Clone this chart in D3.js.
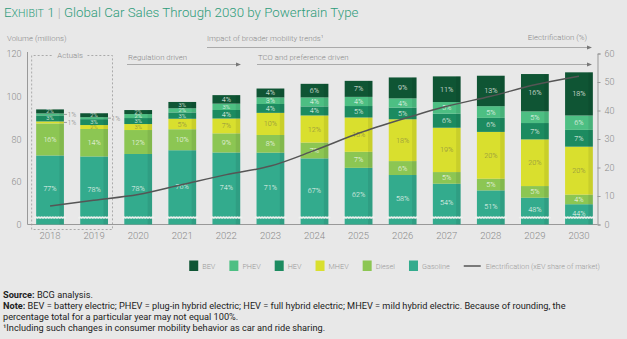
<!DOCTYPE html>
<html>
<head>
<meta charset="utf-8">
<script src="https://cdn.jsdelivr.net/npm/d3@7"></script>
<style>
  body { margin: 0; background: #e8e8e8; }
  svg { display: block; font-family: Roboto, sans-serif; }
</style>
</head>
<body>
<svg id="chart" width="627" height="339"></svg>
<script>
const years = ["2018", "2019", "2020", "2021", "2022", "2023", "2024", "2025", "2026", "2027", "2028", "2029", "2030"];
const totals = [94, 92.2, 93.7, 97.5, 100.7, 103.8, 106, 107.4, 109, 109.5, 109.8, 110.6, 111.4]; // millions
const bev = [2, 2, 2, 3, 4, 4, 6, 7, 9, 11, 13, 16, 18];
const phev = [1, 1, 2, 2, 3, 3, 4, 4, 4, 5, 5, 5, 6];
const hev = [3, 3, 3, 3, 4, 4, 4, 5, 5, 6, 6, 7, 7];
const mhev = [1, 2, 3, 5, 7, 10, 12, 15, 18, 19, 20, 20, 20];
const diesel = [16, 14, 12, 10, 9, 8, 7, 7, 6, 5, 5, 5, 4];
const gasoline = [77, 78, 78, 76, 74, 71, 67, 62, 58, 54, 51, 48, 44];
const electrification = [6.5, 8.5, 10.5, 14, 17.5, 20.5, 26, 32, 37, 41.5, 45, 49, 52];

const leftTicks = [40, 60, 80, 100, 120];   // 40 sits where the broken axis reads "0"
const rightTicks = [0, 10, 20, 30, 40, 50, 60];

const seriesNames = ["BEV", "PHEV", "HEV", "MHEV", "Diesel", "Gasoline"];
const seriesValues = [bev, phev, hev, mhev, diesel, gasoline];
const seriesColors = ["#0f5534", "#4dbf83", "#1c8b60", "#d9df2e", "#8cc653", "#33ab8d"];

const svg = d3.select("#chart");
const gray = "#8a8a8a";

// title
const title = svg.append("text").attr("x", 4).attr("y", 17)
  .attr("fill", "#2e9c7a").attr("font-weight", 300).attr("font-size", 13.3);
title.append("tspan").text("E");
title.append("tspan").attr("font-size", 10.6).text("XHIBIT");
title.append("tspan").text(" 1 ");
title.append("tspan").attr("fill", "#aaa").text("|");
title.append("tspan").text(" Global Car Sales Through 2030 by Powertrain Type");

// scales
const x = d3.scaleBand().domain(years).range([28, 601]).paddingInner(0.37).paddingOuter(0.185);
const yL = d3.scaleLinear().domain([40, 120]).range([224.5, 54]);
const yR = d3.scaleLinear().domain([0, 60]).range([224.5, 53.5]);
const bw = x.bandwidth();

// stacked data, bottom-up
const rows = years.map((year, i) => {
  const row = { year: year, i: i };
  const sum = d3.sum(seriesValues, s => s[i]);
  seriesNames.forEach((n, k) => { row[n] = totals[i] * seriesValues[k][i] / sum; });
  return row;
});
const stackKeys = seriesNames.slice().reverse();
const stacked = d3.stack().keys(stackKeys)(rows);
const color = d3.scaleOrdinal().domain(seriesNames).range(seriesColors);

// dashed "Actuals" box
const ax0 = x("2018") - 4.5, ax1 = x("2019") + bw + 4.5;
const dash = svg.append("g").attr("stroke", "#aaa").attr("stroke-dasharray", "2,2").attr("fill", "none");
dash.append("path").attr("d", `M${ax0 + 20},55.5H${ax0}V229.5H${ax1}V55.5H${ax1 - 25}`);
svg.append("text").attr("x", (ax0 + ax1) / 2 - 2).attr("y", 55.5).attr("dy", "0.35em")
  .attr("text-anchor", "middle").attr("font-size", 7.8).attr("font-weight", 300).attr("fill", gray).text("Actuals");

// axis lines
svg.append("line").attr("x1", 27.5).attr("x2", 27.5).attr("y1", 52).attr("y2", 224.5).attr("stroke", "#999");
svg.append("line").attr("x1", 27.5).attr("x2", 597.5).attr("y1", 224.5).attr("y2", 224.5).attr("stroke", "#999");

const gLeft = svg.append("g").attr("transform", "translate(27.5,0)")
  .call(d3.axisLeft(yL).tickValues(leftTicks).tickSize(0).tickPadding(6).tickFormat(d => d === 40 ? "0" : d));
const gRight = svg.append("g").attr("transform", "translate(597.5,0)")
  .call(d3.axisRight(yR).tickValues(rightTicks).tickSize(3).tickPadding(4));
const gBottom = svg.append("g").attr("transform", "translate(0,224.5)")
  .call(d3.axisBottom(x).tickSize(0).tickPadding(8));
[gLeft, gRight, gBottom].forEach(g => {
  g.selectAll("text").attr("fill", gray).attr("font-family", "Roboto, sans-serif").attr("font-weight", 300);
  g.selectAll(".tick line").attr("stroke", "#999");
});
gLeft.attr("font-size", 9);
gRight.attr("font-size", 9);
gBottom.attr("font-size", 9.5);
gLeft.select(".domain").remove();
gBottom.select(".domain").remove();
gRight.select(".domain").attr("stroke", "#999");

// bars
const layers = svg.append("g").selectAll("g").data(stacked).join("g")
  .attr("fill", d => color(d.key));
layers.selectAll("rect").data(d => d).join("rect")
  .attr("x", d => x(d.data.year))
  .attr("width", bw)
  .attr("y", d => yL(d[1]))
  .attr("height", d => yL(Math.max(d[0], 40)) - yL(d[1]));

// darker right edge of each bar
svg.append("g").selectAll("rect").data(rows).join("rect")
  .attr("x", d => x(d.year) + bw - 4.5).attr("width", 4.5)
  .attr("y", d => yL(totals[d.i])).attr("height", d => yL(40) - yL(totals[d.i]))
  .attr("fill", "#000").attr("opacity", 0.07);

// axis-break waves
const wave = d3.line().curve(d3.curveBasis);
svg.append("g").selectAll("path").data(years).join("path")
  .attr("d", yr => {
    const x0 = x(yr) - 1.5, x1 = x(yr) + bw + 1.5;
    const pts = d3.range(x0, x1 + 0.1, 1.4).map((px, j) => [px, 217.5 + (j % 2 ? -1 : 1)]);
    return wave(pts);
  })
  .attr("fill", "none").attr("stroke", "#eef0ee").attr("stroke-width", 2);

// segment labels
const labels = svg.append("g").attr("font-weight", 300);
stacked.forEach(layer => {
  const key = layer.key;
  const k = seriesNames.indexOf(key);
  layer.forEach(d => {
    const share = seriesValues[k][d.data.i];
    const top = yL(d[1]);
    const bottom = key === "Gasoline" ? 222 : yL(d[0]);
    const cy = (top + bottom) / 2;
    const bx = x(d.data.year);
    if (share <= 1) {
      labels.append("line").attr("x1", bx + bw).attr("x2", bx + bw + 3)
        .attr("y1", cy).attr("y2", cy).attr("stroke", "#999");
      labels.append("text").attr("x", bx + bw + 3.5).attr("y", cy).attr("dy", "0.35em")
        .attr("font-size", 6.8).attr("fill", gray).text(share + "%");
    } else {
      labels.append("text").attr("x", bx + bw / 2).attr("y", cy).attr("dy", "0.35em")
        .attr("text-anchor", "middle")
        .attr("font-size", bottom - top < 6.5 ? 5.8 : 7.2)
        .attr("fill", key === "MHEV" ? "#8c8c42" : "#f4f8f2")
        .text(share + "%");
    }
  });
});

// electrification line
svg.append("path")
  .attr("d", d3.line().curve(d3.curveMonotoneX)
    .x((d, i) => x(years[i]) + bw / 2).y(d => yR(d))(electrification))
  .attr("fill", "none").attr("stroke", "#555").attr("stroke-width", 1.5);

// phase annotations
function arrowLine(x1, x2, y) {
  svg.append("line").attr("x1", x1).attr("x2", x2 - 4).attr("y1", y).attr("y2", y)
    .attr("stroke", "#aaa").attr("stroke-width", 1);
  svg.append("path").attr("d", `M${x2},${y}L${x2 - 5},${y - 2}L${x2 - 5},${y + 2}Z`).attr("fill", "#777");
}
const ann = svg.append("g").attr("font-size", 7.8).attr("font-weight", 300).attr("fill", gray);
ann.append("text").attr("x", 7).attr("y", 38).attr("dy", "0.35em").text("Volume (millions)");
ann.append("text").attr("x", 207).attr("y", 38).attr("dy", "0.35em").text("Impact of broader mobility trends¹");
ann.append("text").attr("x", 587).attr("y", 37).attr("dy", "0.35em").attr("text-anchor", "end").text("Electrification (%)");
ann.append("text").attr("x", 128).attr("y", 57.5).attr("dy", "0.35em").text("Regulation driven");
ann.append("text").attr("x", 258).attr("y", 57.5).attr("dy", "0.35em").text("TCO and preference driven");
arrowLine(207, 592, 47.5);
arrowLine(127, 241, 64.5);
arrowLine(257, 592, 64.5);

// legend
const legendNames = seriesNames.concat(["Electrification (xEV share of market)"]);
const legend = svg.append("g").attr("font-size", 7.3).attr("font-weight", 300).attr("fill", "#999");
let lx = 0;
legendNames.forEach((name, k) => {
  const item = legend.append("g").attr("transform", `translate(${lx},0)`);
  let w;
  if (k < seriesNames.length) {
    item.append("rect").attr("x", 0).attr("y", 260.5).attr("width", 9).attr("height", 10.5).attr("fill", seriesColors[k]);
    w = 13;
  } else {
    item.append("line").attr("x1", 0).attr("x2", 17).attr("y1", 266).attr("y2", 266)
      .attr("stroke", "#555").attr("stroke-width", 1.5);
    w = 22;
  }
  const t = item.append("text").attr("x", w).attr("y", 266).attr("dy", "0.35em").text(name);
  lx += w + t.node().getComputedTextLength() + 14;
});
legend.attr("transform", `translate(${600 - (lx - 14)},0)`);

// footnotes
const foot = svg.append("g").attr("font-size", 9.2).attr("fill", "#222");
const f1 = foot.append("text").attr("x", 3).attr("y", 298);
f1.append("tspan").attr("font-weight", 700).text("Source:");
f1.append("tspan").text(" BCG analysis.");
const f2 = foot.append("text").attr("x", 3).attr("y", 309);
f2.append("tspan").attr("font-weight", 700).text("Note:");
f2.append("tspan").text(" BEV = battery electric; PHEV = plug-in hybrid electric; HEV = full hybrid electric; MHEV = mild hybrid electric. Because of rounding, the");
foot.append("text").attr("x", 3).attr("y", 320).text("percentage total for a particular year may not equal 100%.");
foot.append("text").attr("x", 3).attr("y", 331).text("¹Including such changes in consumer mobility behavior as car and ride sharing.");
</script>
</body>
</html>
